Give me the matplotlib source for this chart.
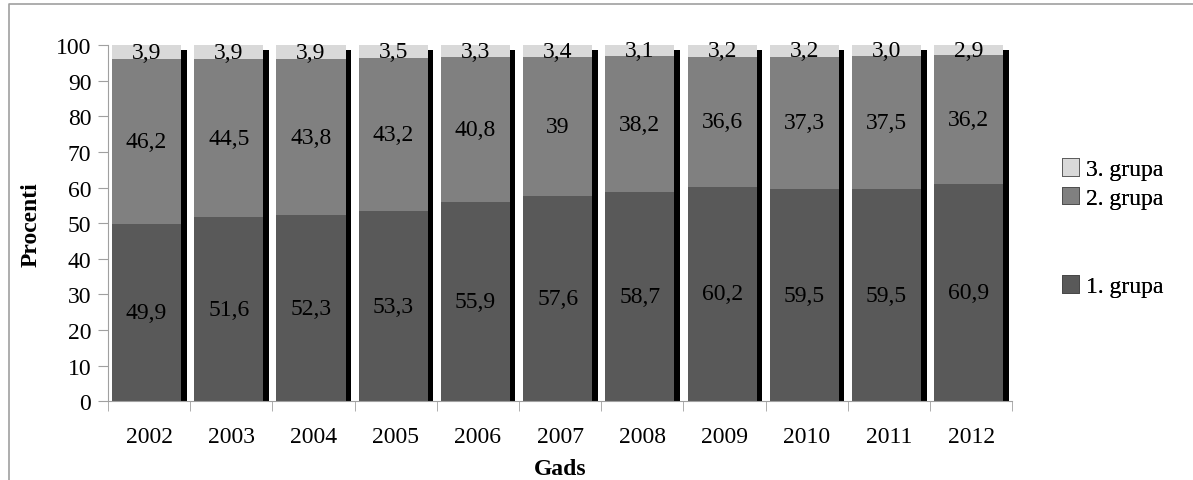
import matplotlib.pyplot as plt
import matplotlib.transforms as mtransforms
from matplotlib.lines import Line2D
from matplotlib.patches import Patch
import numpy as np

years = ["2002", "2003", "2004", "2005", "2006", "2007", "2008", "2009", "2010", "2011", "2012"]
grupa1 = [49.9, 51.6, 52.3, 53.3, 55.9, 57.6, 58.7, 60.2, 59.5, 59.5, 60.9]
grupa2 = [46.2, 44.5, 43.8, 43.2, 40.8, 39.0, 38.2, 36.6, 37.3, 37.5, 36.2]
grupa3 = [3.9, 3.9, 3.9, 3.5, 3.3, 3.4, 3.1, 3.2, 3.2, 3.0, 2.9]
labels1 = ["49,9", "51,6", "52,3", "53,3", "55,9", "57,6", "58,7", "60,2", "59,5", "59,5", "60,9"]
labels2 = ["46,2", "44,5", "43,8", "43,2", "40,8", "39", "38,2", "36,6", "37,3", "37,5", "36,2"]
labels3 = ["3,9", "3,9", "3,9", "3,5", "3,3", "3,4", "3,1", "3,2", "3,2", "3,0", "2,9"]
series_names = ["1. grupa", "2. grupa", "3. grupa"]
colors = ["#595959", "#808080", "#d9d9d9"]

plt.rcParams['font.family'] = ['Liberation Serif', 'DejaVu Serif']
fs = 17

fig = plt.figure(figsize=(11.93, 4.81), dpi=100)
ax = fig.add_axes([0.0905, 0.164, 0.758, 0.740])

x = np.arange(len(years))
width = 0.84
g1 = np.array(grupa1)
g2 = np.array(grupa2)
g3 = np.array(grupa3)
totals = g1 + g2 + g3

# black "3D" shadow behind each stack
shadow = mtransforms.ScaledTranslation(5.5 / 100, -5 / 100, fig.dpi_scale_trans)
ax.bar(x - 0.03, totals, width, color="black", transform=ax.transData + shadow, zorder=1)

b1 = ax.bar(x - 0.03, g1, width, color=colors[0], zorder=2)
b2 = ax.bar(x - 0.03, g2, width, bottom=g1, color=colors[1], zorder=2)
b3 = ax.bar(x - 0.03, g3, width, bottom=g1 + g2, color=colors[2], zorder=2)

for bars, labs in [(b1, labels1), (b2, labels2), (b3, labels3)]:
    ax.bar_label(bars, labels=labs, label_type="center", fontsize=fs, zorder=3)

ax.set_xlim(-0.5, len(years) - 0.5)
ax.set_ylim(0, 100)
ax.set_yticks(range(0, 101, 10))
ax.set_xticks(x)
ax.set_xticklabels(years)
ax.set_xticks(np.arange(len(years) + 1) - 0.5, minor=True)
ax.tick_params(axis="x", which="major", length=0, labelsize=fs, pad=18)
ax.tick_params(axis="x", which="minor", length=7, color="#a0a0a0")
ax.tick_params(axis="y", labelsize=fs, length=7, color="#a0a0a0", pad=5)

for side in ["top", "right"]:
    ax.spines[side].set_visible(False)
for side in ["left", "bottom"]:
    ax.spines[side].set_color("#a0a0a0")

ax.set_ylabel("Procenti", fontsize=fs, fontweight="bold", labelpad=10)
ax.set_xlabel("Gads", fontsize=fs, fontweight="bold", labelpad=8)

# legend entries, placed one by one like the original
legend_y = [0.403, 0.586, 0.646]
for name, col, ly in zip(series_names, colors, legend_y):
    leg = fig.legend(handles=[Patch(facecolor=col, edgecolor="#404040", linewidth=0.5)], labels=[name],
                     loc="center left", bbox_to_anchor=(0.872, ly), frameon=False,
                     fontsize=fs, handlelength=0.75, handleheight=0.75, handletextpad=0.3)
    fig.add_artist(leg)

# outer frame (left and top edges visible)
fig.add_artist(Line2D([0.0075, 0.0075, 1.0], [0.0, 0.989, 0.989], transform=fig.transFigure,
                      color="#a0a0a0", linewidth=1.2))

fig.savefig("out.png", dpi=100)
